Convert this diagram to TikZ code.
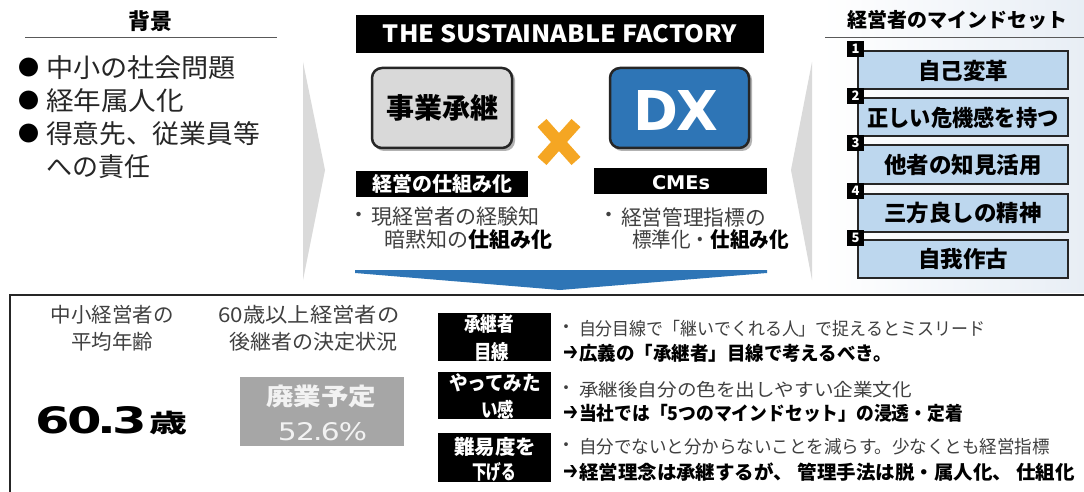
\documentclass[tikz,border=0pt]{standalone}
\usepackage{fontspec}
\usepackage{graphicx}
\setmainfont{Noto Sans CJK JP}
\newfontfamily\dv{DejaVu Sans}
\newcommand\fs[1]{\fontsize{#1}{#1}\selectfont}
\newcommand\fitw[2]{\resizebox{#1}{\height}{#2}}
\definecolor{txt}{HTML}{404040}
\definecolor{boxfill}{HTML}{D9D9D9}
\definecolor{dxblue}{HTML}{2E75B6}
\definecolor{xorange}{HTML}{F5A623}
\definecolor{mblue}{HTML}{BDD7EE}
\definecolor{grayfill}{HTML}{A6A6A6}
\definecolor{chev}{HTML}{DADADA}
\definecolor{edge}{HTML}{262626}
\definecolor{panelbg}{HTML}{E8EEF5}
\definecolor{rulec}{HTML}{595959}
\begin{document}
\begin{tikzpicture}[x=1pt,y=-1pt,
  tx/.style={inner sep=0pt,outer sep=0pt,text=txt},
  bx/.style={inner sep=0pt,outer sep=0pt,text=black},
  wt/.style={inner sep=0pt,outer sep=0pt,text=white},
  blackbar/.style={fill=black,draw=none,inner sep=0pt,text=white},
  bigbox/.style={draw=edge,line width=2.5pt,rounded corners=10pt,inner sep=0pt,minimum width=140pt,minimum height=80pt},
  mindbox/.style={fill=mblue,draw=edge,line width=2pt,inner sep=0pt,minimum width=210pt,minimum height=38pt,font=\fs{22.5}\bfseries,text=black},
  badge/.style={fill=black,inner sep=0pt,minimum width=17pt,minimum height=16pt,text=white,font=\fs{13}\bfseries},
  labelbox/.style={fill=black,inner sep=0pt,minimum width=113pt},
  labtext/.style={inner sep=0pt,text=white,font=\fs{20}\bfseries},
  arr/.style={inner sep=0pt,outer sep=0pt,text=black,font=\dv\bfseries},
  rule/.style={draw=rulec,line width=1pt}]
\useasboundingbox (0,0) rectangle (1084,492);
\fill[white] (0,0) rectangle (1084,492);
% right panel background
\fill[left color=white,right color=panelbg] (822,0) rectangle (1084,292);
% chevrons
\fill[chev] (303,62) -- (325,170) -- (303,280) -- cycle;
\fill[chev] (812,62) -- (791,170) -- (812,280) -- cycle;

% ---------- left: background ----------
\node[bx,font=\fs{22}\bfseries] (bghead) at (150,21) {背景};
\coordinate (bgl) at (25,38); \coordinate (bgr) at (277,38);
\draw[rule] (bgl) -- (bgr);
\node[bx,font=\fs{21}] (d1) at (28.5,68) {●};
\node[bx,font=\fs{21}] (d2) at (28.5,101) {●};
\node[bx,font=\fs{21}] (d3) at (28.5,134) {●};
\node[tx,font=\fs{26},anchor=west,text=black!85] (l1) at (46,68) {\fitw{190pt}{中小の社会問題}};
\node[tx,font=\fs{26},anchor=west,text=black!85] (l2) at (46,101) {\fitw{138pt}{経年属人化}};
\node[tx,font=\fs{26},anchor=west,text=black!85] (l3) at (46,134) {\fitw{214pt}{得意先、従業員等}};
\node[tx,font=\fs{26},anchor=west,text=black!85] (l4) at (46,167) {\fitw{104pt}{への責任}};

% ---------- centre ----------
\node[blackbar,minimum width=408pt,minimum height=38pt] (title) at (560,34) {};
\node[wt] (titletext) at (560,34) {\resizebox{354pt}{18pt}{\bfseries THE SUSTAINABLE FACTORY}};
\fill[gray!60,rounded corners=10pt] (374,70) rectangle (515,151);
\fill[gray!60,rounded corners=10pt] (612,70) rectangle (752,151);
\node[bigbox,fill=boxfill,font=\fs{28}\bfseries,text=black] (jigyo) at (442,108) {事業承継};
\node[bigbox,fill=dxblue,minimum width=139pt] (dx) at (679.5,108) {};
\node[wt] (dxtext) at (676,110) {\resizebox{85pt}{40pt}{\dv\bfseries D\kern-0.03em X}};
\draw[xorange,line width=12pt] (542,123) -- (576,161);
\draw[xorange,line width=12pt] (576,123) -- (542,161);
\node[blackbar,minimum width=172pt,minimum height=26pt,font=\fs{20}\bfseries] (shikumi) at (442,184) {経営の仕組み化};
\node[blackbar,minimum width=173pt,minimum height=26pt] (cmes) at (680.5,181) {};
\node[wt] (cmestext) at (681,183) {\resizebox{58pt}{14pt}{\dv\bfseries CMEs}};
\node[tx,font=\fs{21}] (cb1) at (359,217) {・};
\node[tx,font=\fs{21},anchor=west] (c1a) at (371,217) {現経営者の経験知};
\node[tx,font=\fs{21},anchor=west] (c1b) at (384,240) {暗黙知の{\bfseries\color{black}仕組み化}};
\node[tx,font=\fs{21}] (cb2) at (609,217) {・};
\node[tx,font=\fs{21},anchor=west] (c2a) at (621,217) {\fitw{145pt}{経営管理指標の}};
\node[tx,font=\fs{21},anchor=west] (c2b) at (632,240) {\fitw{157pt}{標準化・{\bfseries\color{black}仕組み化}}};
\fill[dxblue] (355,270) -- (767,270) -- (767,273) -- (560,290) -- (355,273) -- cycle;

% ---------- right: mindset ----------
\node[bx,font=\fs{20}\bfseries] (mhead) at (957,20) {経営者のマインドセット};
\coordinate (mrl) at (825,38); \coordinate (mrr) at (1084,38);
\draw[rule] (mrl) -- (mrr);
\node[mindbox] (m1) at (963,70.5) {自己変革};
\node[mindbox] (m2) at (963,117.5) {\fitw{191pt}{正しい危機感を持つ}};
\node[mindbox] (m3) at (963,164.5) {他者の知見活用};
\node[mindbox] (m4) at (963,212.5) {三方良しの精神};
\node[mindbox] (m5) at (963,259) {自我作古};
\node[badge] (n1) at (855.5,49) {1};
\node[badge] (n2) at (855.5,96) {2};
\node[badge] (n3) at (855.5,143) {3};
\node[badge] (n4) at (855.5,191) {4};
\node[badge] (n5) at (855.5,238) {5};

% ---------- bottom ----------
\coordinate (fbl) at (10,500); \coordinate (ftl) at (10,295); \coordinate (ftr) at (1090,295);
\draw[draw=edge,line width=2.2pt] (fbl) -- (ftl) -- (ftr);
\node[tx,font=\fs{20.5}] (age1) at (112,315) {中小経営者の};
\node[tx,font=\fs{20.5}] (age2) at (112,342) {平均年齢};
\node[bx,anchor=south west] (agenum) at (35,434) {\resizebox{112pt}{27pt}{\dv\bfseries 6\kern-0.05em 0\kern-0.08em.\kern-0.08em 3}};
\node[bx,anchor=base west,font=\fs{25}\bfseries] (sai) at (149,432) {\fitw{38pt}{歳}};
\node[tx,font=\fs{20.5}] (succ1) at (309,315) {\fitw{181pt}{60歳以上経営者の}};
\node[tx,font=\fs{20.5}] (succ2) at (313,342) {\fitw{168pt}{後継者の決定状況}};
\node[fill=grayfill,inner sep=0pt,minimum width=164pt,minimum height=69pt] (haigyo) at (322,411.5) {};
\node[inner sep=0pt,text=white!95!black,font=\fs{24}\bfseries] (haigyo1) at (321,396) {\fitw{110pt}{廃業予定}};
\node[inner sep=0pt,text=white!95!black] (haigyo2) at (322.5,432) {\resizebox{89pt}{18pt}{\dv 5\kern-0.03em 2\kern-0.06em.\kern-0.06em 6\kern-0.03em\%}};

\node[labelbox,minimum height=48pt] (k1) at (494.5,337) {};
\node[labelbox,minimum height=47pt] (k2) at (494.5,395.5) {};
\node[labelbox,minimum height=49pt] (k3) at (494.5,457.5) {};
\node[labtext] (k1a) at (489,324) {\fitw{50pt}{承継者}};
\node[labtext] (k1b) at (491.5,352) {\fitw{35pt}{目線}};
\node[labtext] (k2a) at (495,383) {\fitw{92pt}{やってみた}};
\node[labtext] (k2b) at (497.5,410) {\fitw{33pt}{い感}};
\node[labtext] (k3a) at (495,447) {\fitw{82pt}{難易度を}};
\node[labtext] (k3b) at (494,472) {\fitw{44pt}{下げる}};

\node[tx,font=\fs{18}] (r1dot) at (566,329) {・};
\node[tx,font=\fs{18},anchor=west] (r1a) at (579,329) {\fitw{406pt}{自分目線で「継いでくれる人」で捉えるとミスリード}};
\node[arr] (r1arr) at (570.5,353) {\resizebox{15pt}{14pt}{➔}};
\node[bx,font=\fs{19}\bfseries,anchor=west] (r1b) at (579,353) {\fitw{313pt}{広義の「承継者」目線で考えるべき。}};
\node[tx,font=\fs{18}] (r2dot) at (566,390) {・};
\node[tx,font=\fs{18},anchor=west] (r2a) at (579,390) {\fitw{333pt}{承継後自分の色を出しやすい企業文化}};
\node[arr] (r2arr) at (570.5,413) {\resizebox{15pt}{14pt}{➔}};
\node[bx,font=\fs{19}\bfseries,anchor=west] (r2b) at (579,413) {\fitw{384pt}{当社では「5つのマインドセット」の浸透・定着}};
\node[tx,font=\fs{18}] (r3dot) at (566,447) {・};
\node[tx,font=\fs{18},anchor=west] (r3a) at (579,447) {\fitw{471pt}{自分でないと分からないことを減らす。少なくとも経営指標}};
\node[arr] (r3arr) at (570.5,472) {\resizebox{15pt}{14pt}{➔}};
\node[bx,font=\fs{19}\bfseries,anchor=west] (r3b) at (579,472) {\fitw{496pt}{経営理念は承継するが、 管理手法は脱・属人化、 仕組化}};
\end{tikzpicture}
\end{document}
